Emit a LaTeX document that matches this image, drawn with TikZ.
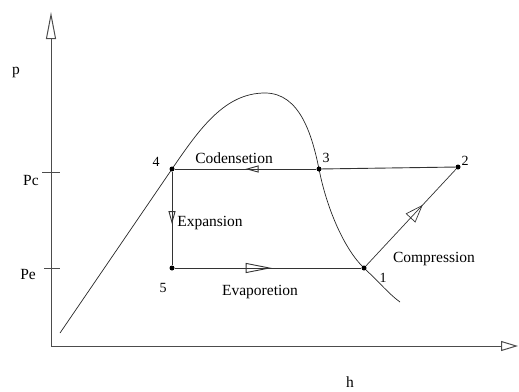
\documentclass[tikz,border=0pt]{standalone}
\usepackage{fontspec}
\setmainfont{Liberation Serif}
\usetikzlibrary{arrows.meta,decorations.markings}
\begin{document}
\begin{tikzpicture}[x=1pt,y=-1pt,
  lbl/.style={font=\fontsize{15.5}{16}\selectfont, inner sep=0pt},
  num/.style={font=\fontsize{14}{14}\selectfont, inner sep=0pt},
  dot/.style={circle, fill=black, inner sep=0pt, minimum size=5pt},
  axisline/.style={draw=black!70, line width=1pt},
  cycle/.style={draw=black!80, line width=0.9pt},
  curveline/.style={draw=black!85, line width=0.7pt},
  midarrow/.style 2 args={postaction={decorate},
    decoration={markings, mark=at position #1 with {\arrow{#2}}}}
]
\useasboundingbox (0,0) rectangle (519,391);

% axes
\coordinate (O) at (51,346);
\coordinate (ytop) at (51,12);
\coordinate (xend) at (518,346);
\draw[axisline, -{Triangle[open,length=27pt,width=10pt]}] (O) -- (ytop);
\draw[axisline, -{Triangle[open,length=17pt,width=10pt]}] (O) -- (xend);

% ticks
\coordinate (pcL) at (42,172); \coordinate (pcR) at (60,172);
\coordinate (peL) at (44,268); \coordinate (peR) at (60,268);
\draw[axisline, line width=0.8pt] (pcL) -- (pcR);
\draw[axisline, line width=0.8pt] (peL) -- (peR);

% axis labels
\node[lbl] (plab) at (16,72) {p};
\node[lbl] (hlab) at (350,382) {h};
\node[lbl] (pclab) at (31,180) {Pc};
\node[lbl] (pelab) at (28,274) {Pe};

% state points
\coordinate (c4) at (172,169);
\coordinate (c3) at (319,169);
\coordinate (c1) at (364,268);
\coordinate (top) at (265,93);
\coordinate (start) at (60,333);
\coordinate (fin) at (400,302);

% saturation curve
\draw[curveline] (start) -- (c4)
  .. controls (200,128) and (225,93) .. (top)
  .. controls (300,93) and (312,135) .. (c3)
  .. controls (327,210) and (345,250) .. (c1)
  .. controls (380,283) and (390,295) .. (fin);

\node[dot] (p4) at (c4) {};
\node[dot] (p3) at (c3) {};
\node[dot] (p2) at (458,167) {};
\node[dot] (p1) at (c1) {};
\node[dot] (p5) at (172,268) {};

% cycle
\draw[cycle] (p2) -- (p3);
\draw[cycle, midarrow={0.5}{Triangle[open,length=13pt,width=7pt]}] (p3) -- (p4);
\draw[cycle, midarrow={0.56}{Triangle[open,length=13pt,width=7pt]}] (p4) -- (p5);
\draw[cycle, midarrow={0.52}{Triangle[open,length=26pt,width=10pt]}] (p5) -- (p1);
\draw[cycle, line width=0.7pt, midarrow={0.63}{Triangle[open,length=18pt,width=13pt]}] (p1) -- (p2);

% point labels
\node[num] (l4) at (156,162) {4};
\node[num] (l3) at (326,158) {3};
\node[num] (l2) at (465,161) {2};
\node[num] (l1) at (383,278) {1};
\node[num] (l5) at (163,288) {5};

% process labels
\node[lbl] (cond) at (234,158) {Codensetion};
\node[lbl] (expa) at (210,223) {Expansion};
\node[lbl] (evap) at (260,292) {Evaporetion};
\node[lbl] (comp) at (434,259) {Compression};
\end{tikzpicture}
\end{document}
